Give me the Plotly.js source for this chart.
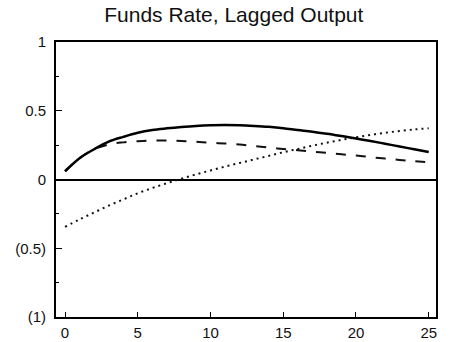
<!DOCTYPE html>
<html>
<head>
<meta charset="utf-8">
<script src="https://cdn.plot.ly/plotly-3.0.1.min.js"></script>
<style>html,body{margin:0;padding:0;background:#fff;}#chart{width:454px;height:342px;}</style>
</head>
<body>
<div id="chart"></div>
<script>
var periods = [0,1,2,3,4,5,6,7,8,9,10,11,12,13,14,15,16,17,18,19,20,21,22,23,24,25];
var solidSeries = [0.06,0.155,0.22,0.275,0.31,0.34,0.36,0.372,0.382,0.39,0.395,0.397,0.395,0.39,0.383,0.373,0.36,0.348,0.333,0.316,0.298,0.28,0.26,0.24,0.22,0.2];
var dashedSeries = [0.06,0.155,0.22,0.255,0.27,0.278,0.283,0.283,0.28,0.274,0.267,0.262,0.255,0.243,0.232,0.222,0.213,0.203,0.193,0.183,0.174,0.163,0.152,0.142,0.133,0.125];
var dottedSeries = [-0.345,-0.29,-0.24,-0.19,-0.145,-0.1,-0.062,-0.027,0.006,0.037,0.066,0.094,0.12,0.146,0.172,0.198,0.222,0.246,0.268,0.288,0.307,0.324,0.34,0.353,0.364,0.372];
var yTickVals = [-1,-0.5,0,0.5,1];
var yTickText = ["(1)","(0.5)","0","0.5","1"];
var xTickVals = [0,5,10,15,20,25];
var titleText = "Funds Rate, Lagged Output";

var traces = [
  {x: periods, y: dottedSeries, mode: 'lines', line: {color: '#111', width: 2, dash: '2px,4px', shape: 'spline'}, hoverinfo: 'skip'},
  {x: periods, y: dashedSeries, mode: 'lines', line: {color: '#111', width: 2, dash: '10px,10px', shape: 'spline'}, hoverinfo: 'skip'},
  {x: periods, y: solidSeries, mode: 'lines', line: {color: '#000', width: 2.5, shape: 'spline'}, hoverinfo: 'skip'}
];

var layout = {
  width: 454, height: 342,
  margin: {l: 56, r: 18, t: 42, b: 25, pad: 0},
  paper_bgcolor: '#fff', plot_bgcolor: '#fff',
  showlegend: false,
  font: {family: '"Liberation Sans", Arial, sans-serif', color: '#111', size: 15},
  title: {text: titleText, font: {size: 21, color: '#111'}, xref: 'container', x: 0.515, xanchor: 'center', yref: 'container', y: 1 - 15/342, yanchor: 'middle'},
  xaxis: {
    range: [-0.62, 25.5], showgrid: false, zeroline: false,
    showline: true, linecolor: '#000', linewidth: 2, mirror: true,
    ticks: 'inside', ticklen: 5, tickwidth: 1, tickcolor: '#000',
    tickvals: xTickVals, ticktext: xTickVals.map(String),
    tickfont: {size: 15}, ticklabelstandoff: 1
  },
  yaxis: {
    range: [-1, 1], showgrid: false,
    zeroline: true, zerolinecolor: '#000', zerolinewidth: 2,
    showline: true, linecolor: '#000', linewidth: 2, mirror: true,
    ticks: 'inside', ticklen: 6, tickwidth: 1, tickcolor: '#000',
    tickvals: yTickVals, ticktext: yTickText,
    tickfont: {size: 15}, ticklabelstandoff: 5,
    minor: {tickvals: [-0.75,-0.25,0.25,0.75], ticks: 'inside', ticklen: 3, tickcolor: '#000', tickwidth: 1}
  }
};

Plotly.newPlot('chart', traces, layout, {staticPlot: true, displayModeBar: false});
</script>
</body>
</html>
